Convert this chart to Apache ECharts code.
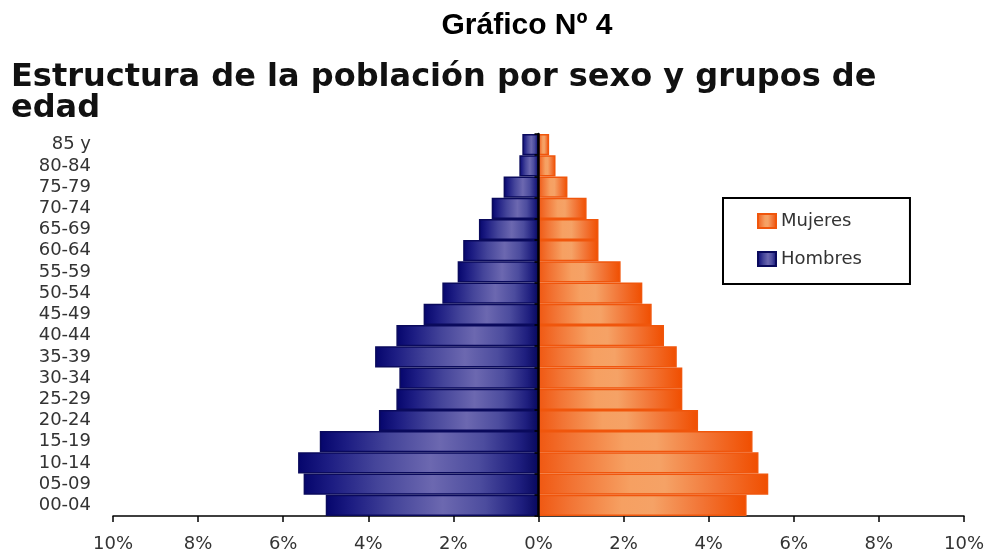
<!DOCTYPE html>
<html><head><meta charset="utf-8">
<script src="https://cdn.jsdelivr.net/npm/echarts@6/dist/echarts.min.js"></script>
<style>html,body{margin:0;padding:0;background:#fff}#c{width:992px;height:553px}</style>
</head><body><div id="c"></div>
<script>
const categories = ['00-04','05-09','10-14','15-19','20-24','25-29','30-34','35-39','40-44','45-49','50-54','55-59','60-64','65-69','70-74','75-79','80-84','85 y'];
const hombres = [5.00, 5.52, 5.65, 5.14, 3.75, 3.34, 3.27, 3.84, 3.34, 2.70, 2.26, 1.90, 1.77, 1.40, 1.10, 0.82, 0.45, 0.38];
const mujeres = [4.89, 5.40, 5.17, 5.03, 3.75, 3.38, 3.38, 3.25, 2.95, 2.66, 2.44, 1.93, 1.41, 1.41, 1.13, 0.68, 0.40, 0.25];
const mainTitle = 'Gráfico Nº 4';
const subTitleLines = ['Estructura de la población por sexo y grupos de', 'edad'];

const chart = echarts.init(document.getElementById('c'));
const gradH = new echarts.graphic.LinearGradient(0, 0, 1, 0, [
  {offset: 0, color: '#05056c'}, {offset: 0.12, color: '#1c1c82'},
  {offset: 0.32, color: '#45459a'}, {offset: 0.55, color: '#6c68b0'},
  {offset: 0.75, color: '#4c4c9e'}, {offset: 0.92, color: '#1e1e7e'},
  {offset: 1, color: '#08085e'}]);
const gradM = new echarts.graphic.LinearGradient(0, 0, 1, 0, [
  {offset: 0, color: '#f05812'}, {offset: 0.15, color: '#f27434'},
  {offset: 0.4, color: '#f6a062'}, {offset: 0.55, color: '#f5a266'},
  {offset: 0.78, color: '#f27536'}, {offset: 1, color: '#f04e00'}]);
const labelFont = {fontFamily: 'DejaVu Sans', fontSize: 18, color: '#333'};

chart.setOption({
  animation: false,
  backgroundColor: '#fff',
  graphic: [
    {type: 'text', x: 527, y: 26, style: {text: mainTitle, font: 'bold 30px "Liberation Sans"', fill: '#000', textAlign: 'center', textVerticalAlign: 'middle'}},
    {type: 'text', x: 11, y: 78, style: {text: subTitleLines[0], font: 'bold 32px "DejaVu Sans"', fill: '#111', textAlign: 'left', textVerticalAlign: 'middle'}},
    {type: 'text', x: 11, y: 109, style: {text: subTitleLines[1], font: 'bold 32px "DejaVu Sans"', fill: '#111', textAlign: 'left', textVerticalAlign: 'middle'}}
  ],
  legend: {
    data: ['Mujeres', 'Hombres'],
    orient: 'vertical',
    left: 723, top: 198,
    padding: [14, 48, 16, 34],
    itemWidth: 18, itemHeight: 14, itemGap: 20,
    borderColor: '#000', borderWidth: 2,
    textStyle: labelFont,
    icon: 'rect'
  },
  grid: {left: 113, right: 28, top: 134, bottom: 36, containLabel: false},
  xAxis: {
    type: 'value', min: -10, max: 10, interval: 2,
    axisLine: {show: true, lineStyle: {color: '#000', width: 1.5}},
    axisTick: {show: true, length: 6, lineStyle: {color: '#000', width: 1.5}},
    splitLine: {show: false},
    axisLabel: Object.assign({margin: 19, formatter: v => Math.abs(v) + '%'}, labelFont)
  },
  yAxis: [
    {
      type: 'category', data: categories, position: 'left',
      axisLine: {show: false, onZero: false},
      axisTick: {show: false},
      axisLabel: Object.assign({margin: 22, interval: 0}, labelFont)
    },
    {
      type: 'category', data: categories, position: 'right', z: 10,
      axisLine: {show: true, onZero: true, lineStyle: {color: '#000', width: 2.5}},
      axisTick: {show: true, length: 4, inside: true, interval: 0, lineStyle: {color: '#000', width: 1.5}},
      axisLabel: {show: false}
    }
  ],
  series: [
    {
      name: 'Hombres', type: 'bar', stack: 'pop', yAxisIndex: 0,
      data: hombres.map(v => -v),
      barCategoryGap: '0%',
      itemStyle: {color: gradH, borderColor: '#0a0a5c', borderWidth: 1.5}
    },
    {
      name: 'Mujeres', type: 'bar', stack: 'pop', yAxisIndex: 0,
      data: mujeres,
      barCategoryGap: '0%',
      itemStyle: {color: gradM, borderColor: '#f0560c', borderWidth: 1.5}
    }
  ]
});
</script></body></html>
